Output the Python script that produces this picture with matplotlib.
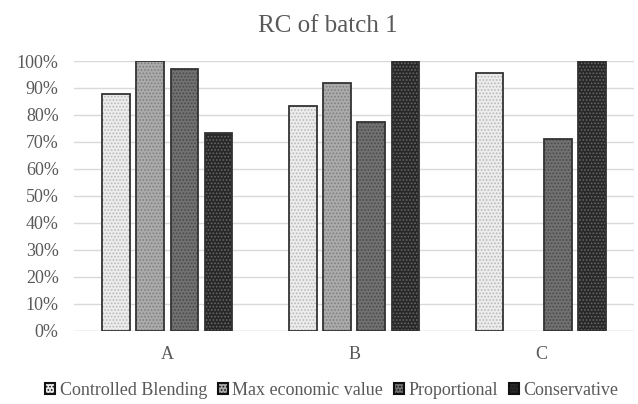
import numpy as np
import matplotlib
matplotlib.use('Agg')
import matplotlib.pyplot as plt
from matplotlib.patches import Patch

plt.rcParams['font.family'] = ['Liberation Serif', 'DejaVu Serif']
plt.rcParams['hatch.linewidth'] = 0.8

categories = ['A', 'B', 'C']
series = ['Controlled Blending', 'Max economic value', 'Proportional', 'Conservative']
controlled = [87.7, 83.4, 95.4]
max_econ = [100.0, 91.7, np.nan]
proportional = [97.1, 77.5, 71.0]
conservative = [73.4, 100.0, 100.0]

values = [controlled, max_econ, proportional, conservative]
face = ['#ececec', '#ababab', '#717171', '#282828']
dots = ['#b8b8b8', '#7f7f7f', '#4a4a4a', '#676767']
edge = '#333333'
txt = '#595959'

fig = plt.figure(figsize=(6.38, 4.04), dpi=100)
ax = fig.add_axes([0.116, 0.181, 0.878, 0.668])

x = np.arange(len(categories))
width = 0.148
step = 0.183
for i, vals in enumerate(values):
    pos = x + (i - 1.5) * step
    v = np.array(vals, dtype=float) / 100
    ax.bar(pos, v, width, color=face[i], hatch='.....', edgecolor=dots[i], linewidth=0, zorder=2)
    ax.bar(pos, v, width, color='none', edgecolor=edge, linewidth=1.3, zorder=3)

ax.set_xlim(-0.5, 2.5)
ax.set_ylim(0, 1.0)
ax.set_yticks(np.arange(0, 1.01, 0.1))
ax.set_yticklabels([f'{int(t)}%' for t in np.arange(0, 101, 10)])
ax.set_xticks(x)
ax.set_xticklabels(categories)
ax.yaxis.grid(True, color='#d9d9d9', linewidth=1, zorder=0)
for s in ax.spines.values():
    s.set_visible(False)
ax.axhline(0, color='#d9d9d9', linewidth=1, zorder=1)
ax.tick_params(axis='both', length=0, colors=txt, labelsize=13)
ax.tick_params(axis='x', pad=11)
ax.tick_params(axis='y', pad=11)

fig.text(0.514, 0.921, 'RC of batch 1', ha='center', va='baseline', fontsize=18, color=txt)

handles = [Patch(facecolor=face[i], edgecolor='#111111', hatch='.....', linewidth=1.5) for i in range(4)]
leg = fig.legend(handles, series, loc='center', bbox_to_anchor=(0.52, 0.034), ncol=4, frameon=False,
                 fontsize=13, labelcolor=txt,
                 handlelength=0.55, handleheight=0.55, handletextpad=0.25,
                 columnspacing=0.6, borderpad=0, borderaxespad=0)
for t in leg.get_texts():
    t.set_fontfamily('Liberation Serif')

fig.savefig('out.png', dpi=100)
